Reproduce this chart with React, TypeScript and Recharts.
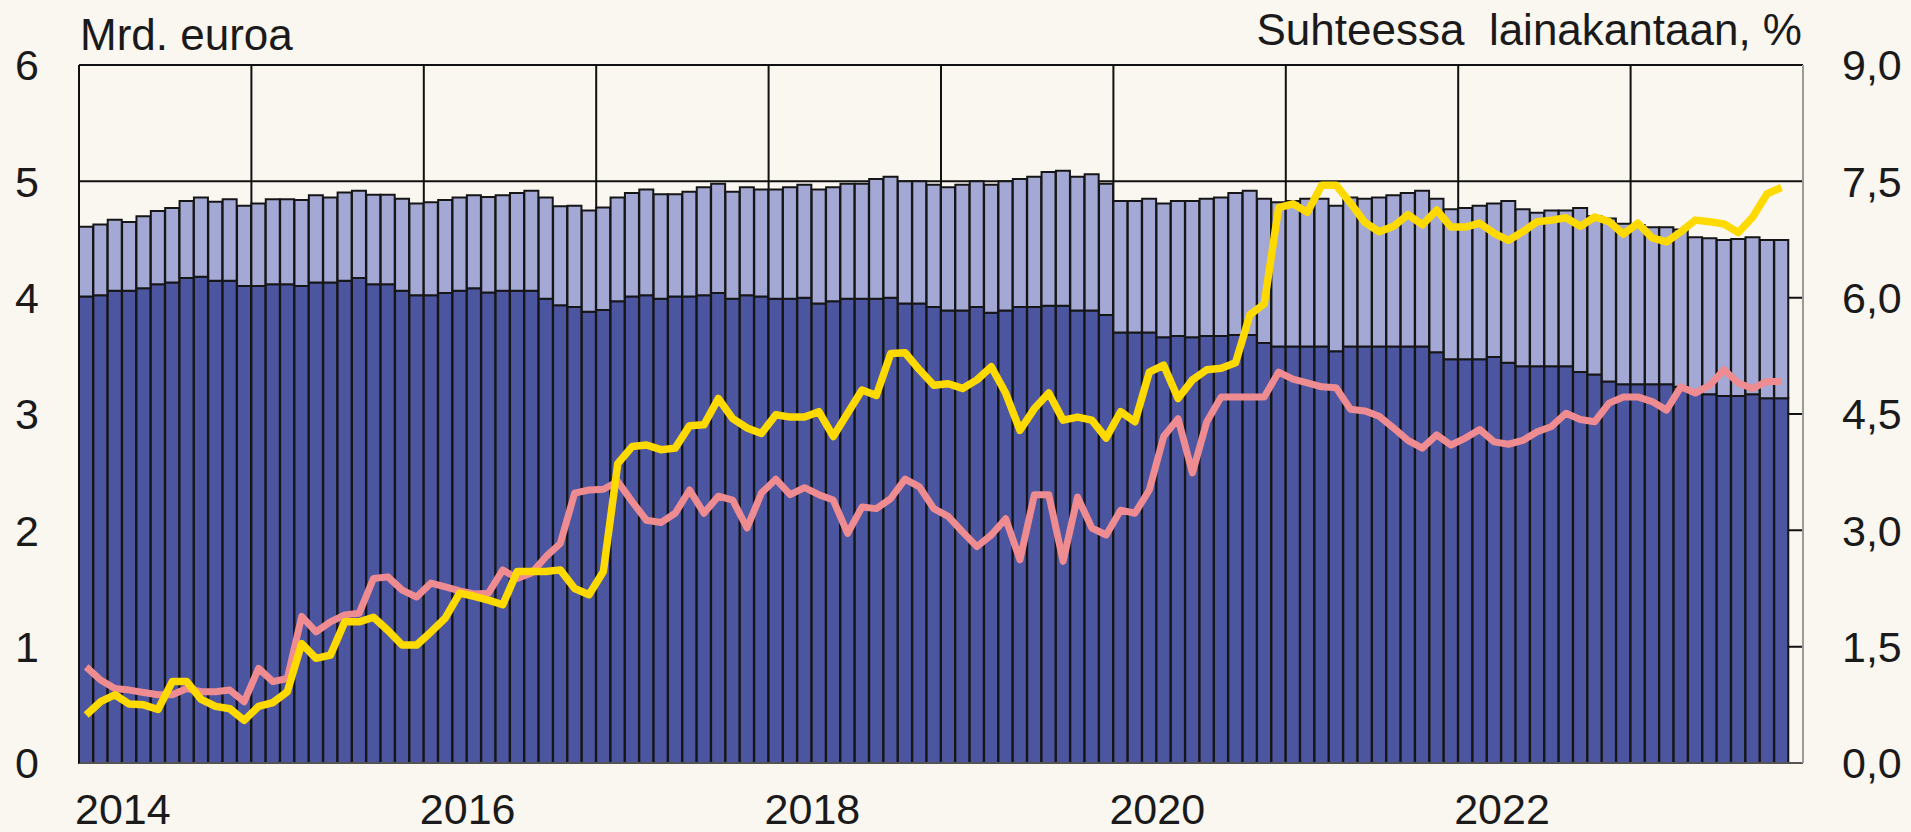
import React from 'react';
import {
  ComposedChart,
  Bar,
  Line,
  XAxis,
  YAxis,
  CartesianGrid,
} from 'recharts';

// monthly, Jan 2014 .. Nov 2023 (Dec 2023 slot left empty)
const firstYear = 2014;
const slotCount = 120;

// bottom segment of the stacked bars, mrd. euroa
const darkPart = [
  4.01, 4.02, 4.06, 4.06, 4.08, 4.115, 4.13, 4.17, 4.18, 4.145, 4.145, 4.1,
  4.1, 4.115, 4.115, 4.1, 4.13, 4.13, 4.145, 4.17, 4.115, 4.115, 4.06, 4.02,
  4.02, 4.04, 4.06, 4.08, 4.045, 4.06, 4.06, 4.06, 3.99, 3.935, 3.92, 3.88,
  3.895, 3.97, 4.01, 4.02, 3.99, 4.01, 4.01, 4.02, 4.04, 3.99, 4.02, 4.01,
  3.99, 3.99, 4.0, 3.95, 3.97, 3.99, 3.99, 3.99, 4.0, 3.95, 3.95, 3.92,
  3.89, 3.89, 3.92, 3.87, 3.89, 3.92, 3.92, 3.93, 3.93, 3.89, 3.89, 3.85,
  3.7, 3.7, 3.7, 3.66, 3.67, 3.66, 3.67, 3.67, 3.68, 3.68, 3.61, 3.58,
  3.58, 3.58, 3.58, 3.54, 3.58, 3.58, 3.58, 3.58, 3.58, 3.58, 3.53, 3.47,
  3.47, 3.47, 3.49, 3.44, 3.41, 3.41, 3.41, 3.41, 3.36, 3.34, 3.28, 3.255,
  3.255, 3.255, 3.255, 3.235, 3.18, 3.17, 3.155, 3.155, 3.17, 3.135, 3.135,
];

// top segment of the stacked bars, mrd. euroa
const lightPart = [
  0.6, 0.61, 0.61, 0.59, 0.62, 0.63, 0.64, 0.66, 0.68, 0.68, 0.7, 0.69,
  0.71, 0.73, 0.73, 0.74, 0.75, 0.73, 0.76, 0.75, 0.77, 0.77, 0.79, 0.79,
  0.8, 0.8, 0.8, 0.8, 0.82, 0.82, 0.84, 0.86, 0.87, 0.85, 0.87, 0.87,
  0.88, 0.89, 0.89, 0.91, 0.9, 0.88, 0.9, 0.93, 0.94, 0.92, 0.93, 0.92,
  0.94, 0.96, 0.97, 0.98, 0.98, 0.99, 0.99, 1.03, 1.04, 1.05, 1.05, 1.05,
  1.06, 1.08, 1.08, 1.1, 1.11, 1.1, 1.12, 1.15, 1.16, 1.15, 1.17, 1.13,
  1.13, 1.13, 1.15, 1.15, 1.16, 1.17, 1.18, 1.19, 1.22, 1.24, 1.24, 1.24,
  1.25, 1.27, 1.27, 1.25, 1.28, 1.27, 1.28, 1.3, 1.32, 1.34, 1.32, 1.29,
  1.3, 1.32, 1.32, 1.39, 1.35, 1.32, 1.34, 1.34, 1.41, 1.36, 1.4, 1.38,
  1.37, 1.35, 1.35, 1.35, 1.34, 1.34, 1.34, 1.35, 1.35, 1.36, 1.36,
];

// yellow line, % of loan stock (right axis)
const yellowLine = [
  0.62, 0.79, 0.88, 0.76, 0.75, 0.69, 1.05, 1.05, 0.82, 0.73, 0.7, 0.55,
  0.73, 0.78, 0.92, 1.54, 1.35, 1.39, 1.82, 1.82, 1.88, 1.71, 1.52, 1.52,
  1.69, 1.87, 2.19, 2.15, 2.1, 2.04, 2.47, 2.47, 2.47, 2.49, 2.25, 2.17,
  2.47, 3.86, 4.08, 4.1, 4.04, 4.06, 4.35, 4.36, 4.7, 4.44, 4.32, 4.25,
  4.49, 4.46, 4.46, 4.53, 4.21, 4.51, 4.81, 4.74, 5.28, 5.29, 5.07, 4.87,
  4.89, 4.83, 4.94, 5.11, 4.77, 4.29, 4.57, 4.77, 4.42, 4.46, 4.42, 4.19,
  4.53, 4.4, 5.04, 5.13, 4.7, 4.94, 5.07, 5.09, 5.16, 5.78, 5.92, 7.16,
  7.21, 7.1, 7.45, 7.45, 7.22, 6.97, 6.85, 6.92, 7.07, 6.94, 7.13, 6.91,
  6.91, 6.96, 6.83, 6.74, 6.85, 6.98, 7.0, 7.03, 6.92, 7.04, 6.98, 6.82,
  6.96, 6.77, 6.72, 6.85, 7.0, 6.98, 6.95, 6.84, 7.04, 7.34, 7.42,
];

// pink line, % of loan stock (right axis)
const pinkLine = [
  1.24, 1.07, 0.96, 0.94, 0.91, 0.88, 0.88, 0.96, 0.92, 0.92, 0.94, 0.79,
  1.22, 1.05, 1.09, 1.89, 1.69, 1.82, 1.91, 1.93, 2.38, 2.4, 2.23, 2.14,
  2.32, 2.27, 2.22, 2.18, 2.19, 2.49, 2.38, 2.45, 2.66, 2.83, 3.48, 3.52,
  3.53, 3.63, 3.37, 3.13, 3.1, 3.22, 3.52, 3.22, 3.44, 3.39, 3.03, 3.48,
  3.66, 3.46, 3.55, 3.46, 3.39, 2.96, 3.3, 3.28, 3.41, 3.66, 3.56, 3.28,
  3.18, 2.98, 2.79, 2.94, 3.15, 2.62, 3.46, 3.46, 2.6, 3.43, 3.03, 2.94,
  3.26, 3.22, 3.52, 4.21, 4.44, 3.74, 4.4, 4.72, 4.72, 4.72, 4.72, 5.04,
  4.95, 4.9, 4.85, 4.84, 4.56, 4.54, 4.47, 4.32, 4.16, 4.06, 4.23, 4.1,
  4.19, 4.3, 4.14, 4.11, 4.16, 4.27, 4.34, 4.51, 4.43, 4.4, 4.64, 4.72,
  4.72, 4.66, 4.55, 4.85, 4.77, 4.87, 5.07, 4.9, 4.83, 4.92, 4.92,
];

const xTickLabels = ['2014', '2016', '2018', '2020', '2022'];
const leftTicks = [0, 1, 2, 3, 4, 5, 6];
const rightTicks = [0, 1.5, 3, 4.5, 6, 7.5, 9];

const months: string[] = [];
for (let i = 0; i < slotCount; i++) {
  const y = firstYear + Math.floor(i / 12);
  const m = (i % 12) + 1;
  months.push(`${y}-${m < 10 ? '0' + m : m}`);
}
const yearStarts = months.filter((m) => m.endsWith('-01'));

const chartData = months.map((m, i) => ({
  month: m,
  dark: darkPart[i],
  light: lightPart[i],
  yellow: yellowLine[i],
  pink: pinkLine[i],
}));

const FONT = '"Liberation Sans", Arial, sans-serif';
const TEXT = '#1a1a1a';
const BG = '#FAF6F0';

const YearTick = ({ x, y, payload }: any) => {
  const label = xTickLabels.find((l) => `${l}-01` === payload.value);
  if (!label) return <g />;
  const half = typeof payload.offset === 'number' ? payload.offset : 7;
  return (
    <text
      x={x - half - 4}
      y={y + 59}
      textAnchor="start"
      fontSize={43}
      fontFamily={FONT}
      fill={TEXT}
    >
      {label}
    </text>
  );
};

const yearLines = ({ xAxis, offset }: any) => {
  const pts: number[] = [];
  if (xAxis && typeof xAxis.scale === 'function') {
    yearStarts.forEach((m) => {
      const v = xAxis.scale(m);
      if (typeof v === 'number' && !isNaN(v)) pts.push(v);
    });
  }
  if (pts.length === 0 && offset) {
    yearStarts.forEach((_, k) => {
      pts.push(offset.left + (offset.width * k * 12) / slotCount);
    });
  }
  return pts;
};

const App: React.FC = () => {
  return (
    <div
      style={{
        position: 'absolute',
        left: 0,
        top: 0,
        width: 1911,
        height: 832,
        background: BG,
        fontFamily: FONT,
      }}
    >
      <ComposedChart
        width={1911}
        height={832}
        data={chartData}
        margin={{ top: 65, right: 0, bottom: 0, left: 0 }}
        barCategoryGap={0}
        barGap={0}
      >
        <CartesianGrid
          yAxisId="left"
          stroke="#111"
          strokeWidth={2}
          verticalCoordinatesGenerator={yearLines}
        />
        <XAxis
          dataKey="month"
          type="category"
          interval={0}
          height={69}
          tickSize={0}
          tickLine={false}
          axisLine={{ stroke: '#555', strokeWidth: 2 }}
          tick={<YearTick />}
        />
        <YAxis
          yAxisId="left"
          orientation="left"
          width={79}
          domain={[0, 6]}
          ticks={leftTicks}
          interval={0}
          tickSize={0}
          tickMargin={40}
          tickLine={false}
          axisLine={{ stroke: '#111', strokeWidth: 2 }}
          tick={{ fontSize: 43, fontFamily: FONT, fill: TEXT }}
        />
        <YAxis
          yAxisId="right"
          orientation="right"
          width={108}
          domain={[0, 9]}
          ticks={rightTicks}
          interval={0}
          tickSize={0}
          tickMargin={39}
          tickLine={false}
          axisLine={{ stroke: '#9a9a9a', strokeWidth: 2 }}
          tickFormatter={(v: number) => v.toFixed(1).replace('.', ',')}
          tick={{ fontSize: 43, fontFamily: FONT, fill: TEXT }}
        />
        <Bar
          yAxisId="left"
          dataKey="dark"
          stackId="a"
          fill="#4B55A0"
          stroke="#161616"
          strokeWidth={2}
          isAnimationActive={false}
        />
        <Bar
          yAxisId="left"
          dataKey="light"
          stackId="a"
          fill="#A3A8D4"
          stroke="#161616"
          strokeWidth={2}
          isAnimationActive={false}
        />
        <Line
          yAxisId="right"
          type="linear"
          dataKey="pink"
          stroke="#EE8C91"
          strokeWidth={7}
          strokeLinejoin="round"
          dot={false}
          activeDot={false}
          isAnimationActive={false}
        />
        <Line
          yAxisId="right"
          type="linear"
          dataKey="yellow"
          stroke="#FFDA00"
          strokeWidth={7.5}
          strokeLinejoin="round"
          dot={false}
          activeDot={false}
          isAnimationActive={false}
        />
        <text x={80} y={50} fontSize={44} fontFamily={FONT} fill={TEXT}>
          Mrd. euroa
        </text>
        <text
          x={1802}
          y={45}
          textAnchor="end"
          fontSize={44}
          fontFamily={FONT}
          fill={TEXT}
          style={{ whiteSpace: 'pre' }}
        >
          {'Suhteessa  lainakantaan, %'}
        </text>
      </ComposedChart>
    </div>
  );
};

export default App;
